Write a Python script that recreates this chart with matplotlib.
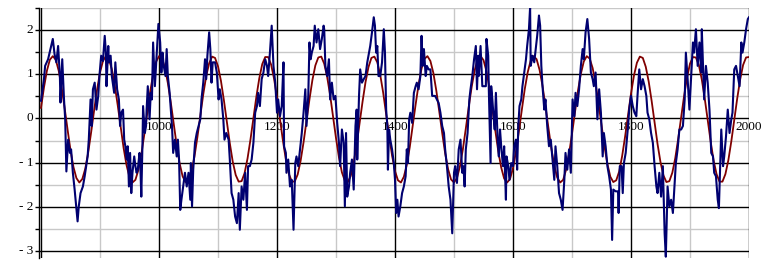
import matplotlib
matplotlib.use("Agg")
import matplotlib.pyplot as plt
from matplotlib.ticker import MultipleLocator

blue_years = [
    800, 805, 807, 812, 816, 820, 823, 826, 829, 832,
    833, 836, 839, 841, 843, 846, 849, 851, 854, 857,
    862, 864, 867, 871, 874, 879, 881, 884, 886, 888,
    891, 894, 897, 899, 902, 905, 908, 910, 911, 914,
    915, 918, 920, 924, 926, 929, 932, 934, 936, 939,
    941, 943, 945, 947, 949, 951, 953, 955, 958, 960,
    962, 964, 967, 968, 970, 972, 973, 976, 978, 979,
    981, 984, 986, 988, 990, 993, 995, 997, 999, 1002,
    1004, 1006, 1008, 1011, 1013, 1015, 1018, 1020, 1022, 1024,
    1027, 1030, 1032, 1034, 1036,
    1038, 1041, 1044, 1047, 1050, 1053, 1054, 1056, 1058, 1061,
    1064, 1067, 1070, 1072, 1075, 1078, 1080, 1082, 1085, 1087,
    1089, 1091, 1095, 1098, 1101, 1103, 1106, 1109, 1111, 1114,
    1118, 1120, 1123, 1126, 1129, 1132, 1135, 1137, 1140, 1143,
    1146, 1149, 1151, 1154, 1157, 1160, 1163, 1166, 1168, 1171,
    1174, 1177, 1180, 1183, 1185, 1188, 1191, 1194, 1197, 1200,
    1202, 1205, 1208, 1211, 1212, 1215, 1216, 1219, 1222, 1225,
    1228, 1231, 1233, 1236, 1239, 1242, 1245, 1248, 1250, 1253,
    1255, 1257, 1259, 1262, 1264, 1267, 1270, 1273, 1276, 1279,
    1280, 1282, 1285, 1288, 1290, 1293, 1296, 1299, 1302, 1305,
    1307, 1310, 1313, 1315, 1317, 1319, 1322, 1324, 1327, 1330,
    1333, 1335, 1336, 1339, 1341, 1344, 1347, 1350, 1353, 1355,
    1358, 1361, 1364, 1366, 1368, 1370, 1372, 1375, 1378, 1381,
    1383, 1385, 1387, 1388, 1390, 1392, 1395, 1398, 1400, 1402,
    1404, 1406, 1409, 1412, 1415, 1418, 1420, 1422, 1424, 1426,
    1429, 1432, 1435, 1437, 1440, 1443, 1445, 1447, 1449, 1452,
    1454, 1457, 1460, 1463, 1466, 1468, 1471, 1474, 1477, 1480,
    1483, 1485, 1488, 1491, 1494, 1497, 1500, 1502, 1505, 1508,
    1511, 1514, 1516,
    1518, 1520, 1523, 1526, 1528, 1531, 1534, 1537, 1539, 1541,
    1542, 1545, 1548, 1551, 1554, 1555, 1558, 1559, 1562, 1563,
    1565, 1567, 1569, 1571, 1574, 1576, 1578, 1580, 1583, 1585,
    1588, 1589, 1592, 1594, 1597, 1600, 1602, 1605, 1607, 1609,
    1611, 1614, 1616, 1619, 1622, 1624, 1627, 1629, 1630, 1633,
    1636, 1639, 1641, 1644, 1646, 1648, 1650, 1653, 1655, 1658,
    1661, 1664, 1667, 1670, 1672, 1675, 1678, 1681, 1684, 1687,
    1689, 1692, 1695, 1698, 1701, 1704, 1706, 1709, 1712, 1715,
    1718, 1720, 1723, 1726, 1729, 1732, 1735, 1737, 1740, 1743,
    1746, 1749, 1752, 1754, 1757, 1760,
    1763, 1766, 1768, 1770, 1774, 1778, 1779, 1781, 1784, 1786,
    1788, 1791, 1793, 1795, 1797, 1800, 1803, 1806, 1809, 1811,
    1814, 1817, 1820, 1823, 1826, 1828, 1831, 1834, 1837, 1840,
    1843, 1845, 1848, 1851, 1854, 1857, 1859, 1862, 1865, 1868,
    1871, 1874, 1876, 1879, 1882, 1885, 1888, 1891, 1893, 1896,
    1899, 1902, 1905, 1907, 1910, 1913, 1916, 1919, 1920, 1923,
    1924, 1927, 1930, 1933, 1936, 1939, 1941, 1944, 1947, 1949,
    1951, 1953, 1956, 1958, 1961, 1964, 1967, 1970, 1972, 1975,
    1978, 1981, 1984, 1987, 1989, 1992, 1995, 1998, 2000,
]

blue_values = [
    0.40, 0.89, 1.19, 1.34, 1.57, 1.80, 1.45, 1.27, 1.64, 0.96,
    0.36, 1.34, 0.43, -0.02, -1.20, -0.48, -0.78, -0.70, -1.23, -1.61,
    -2.33, -1.99, -1.69, -1.54, -1.31, -0.86, -0.48, 0.43, -0.17, 0.66,
    0.81, 0.20, 0.51, 0.96, 1.42, 1.30, 1.87, 1.49, 0.73, 1.64,
    1.27, 1.42, 0.96, 0.58, 1.27, 0.66, 0.43, -0.17, 0.13, 0.20,
    -0.48, -0.63, -0.93, -0.63, -1.54, -0.78, -1.69, -1.23, -0.86, -1.08,
    -1.23, -1.16, -0.78, -0.93, -1.77, -0.55, 0.28, -0.33, -0.17, 0.20,
    0.73, -0.02, 0.58, 0.43, 1.72, 0.73, 1.19, 1.64, 2.14, 1.72,
    1.04, 1.49, 1.19, 0.96, 1.57, 0.96, 0.58, 0.20, -0.17, -0.78,
    -0.48, -0.86, -0.48, -0.93, -2.07,
    -1.84, -1.54, -1.23, -1.54, -1.23, -1.84, -1.01, -1.99, -1.16, -0.55,
    -0.33, -0.17, -0.02, 0.43, 0.81, 1.34, 0.89, 1.42, 1.95, 1.57,
    0.81, 1.27, 1.27, 1.04, 0.43, 0.66, 0.43, -0.02, -0.48, -0.33,
    -0.48, -0.93, -1.69, -1.84, -2.22, -2.37, -1.69, -2.52, -1.54, -1.84,
    -1.23, -2.07, -1.08, -1.08, -0.93, -0.55, 0.13, 0.28, 0.58, 0.28,
    0.89, 1.04, 1.34, 1.19, 0.96, 1.49, 2.10, 1.19, 0.81, 0.13,
    0.43, 0.05, 0.28, 1.27, -0.63, -0.78, -1.23, -0.93, -1.54, -1.39,
    -2.52, -1.01, -0.86, -1.08, -0.70, -0.33, 0.13, 0.66, -0.17, 0.51,
    1.72, 1.34, 1.49, 1.64, 2.10, 1.72, 2.02, 1.57, 1.80, 2.10,
    2.02, 1.19, 0.96, 1.34, 0.43, 0.81, 0.43, 0.51, -0.10, -0.55,
    -1.08, -0.25, -0.55, -1.99, -0.33, -1.77, -1.54, -1.23, -0.93, -1.61,
    -0.17, 0.20, -0.93, 0.51, 1.11, 0.81, 0.89, 0.96, 1.27, 1.42,
    1.64, 1.95, 2.29, 2.10, 1.49, 1.64, 0.96, 0.96, 1.27, 2.02,
    1.49, 0.20, -0.17, -1.16, -0.25, -0.48, -0.70, -1.01, -1.39, -2.14,
    -1.84, -2.22, -1.99, -1.69, -1.54, -1.31, -0.70, -1.01, -0.02, 0.13,
    -0.10, 0.58, 0.73, 0.81, 0.66, 0.96, 1.87, 1.19, 1.57, 0.96,
    1.19, 1.11, 1.11, 0.51, 0.51, 0.51, 0.43, 0.35, 0.13, -0.17,
    -0.33, -0.70, -1.08, -1.54, -1.84, -2.60, -1.23, -1.08, -1.46, -0.70,
    -0.48, -1.23, -1.08,
    -1.54, -0.70, -0.33, 0.43, 0.66, 0.96, 1.34, 1.64, 0.66, 1.42,
    0.96, 1.64, 0.73, 0.73, 0.73, 1.80, 1.42, 0.66, -1.01, 0.73,
    0.43, 0.05, -0.25, 0.58, -0.48, -0.86, -0.25, -0.63, -1.08, -0.63,
    -1.84, -0.86, -1.08, -1.39, -1.01, -1.08, -0.63, -0.48, -1.16, -0.17,
    0.28, 0.43, 0.73, 1.04, 1.34, 1.64, 2.02, 2.52, 1.19, 1.42,
    1.27, 1.64, 1.87, 2.33, 2.10, 1.19, 0.73, 0.20, 0.43, -0.17,
    -0.63, -0.48, -0.93, -1.39, -0.63, -1.08, -1.69, -1.84, -2.07, -1.39,
    -0.78, -1.16, -0.70, -1.23, 0.43, 0.05, 0.58, 0.28, 0.66, 1.19,
    1.57, 1.34, 1.95, 2.25, 1.80, 1.04, 0.89, 0.73, 1.04, -0.02,
    0.66, 0.13, -0.86, -0.33, -0.63, -1.08,
    -1.31, -1.61, -2.75, -1.61, -1.65, -1.65, -2.14, -1.08, -1.08, -1.69,
    -1.01, -0.78, -0.48, -0.17, 0.20, 0.51, 0.28, 0.13, 0.05, 0.51,
    1.11, 0.66, 0.89, 0.73, 0.51, 0.13, -0.02, -0.33, -0.55, -1.08,
    -1.54, -1.69, -1.23, -1.77, -1.08, -2.60, -3.13, -1.54, -1.99, -1.84,
    -2.14, -1.46, -1.01, -0.70, -0.25, -0.25, -0.17, 0.43, 1.49, 0.89,
    0.20, 0.96, 1.72, 1.49, 2.02, 1.19, 1.72, 1.04, 2.02, 0.81,
    0.43, 1.19, 0.81, 0.20, -0.78, -0.86, -1.23, -1.31, -1.84, -2.03,
    -1.16, -0.25, -1.08, -0.86, -0.41, 0.20, -0.33, -0.02, 0.13, 1.11,
    1.19, 0.96, 0.73, 1.72, 1.49, 1.72, 2.02, 2.25, 2.29,
]

red_years = list(range(800, 2001, 5))

red_values = [
    0.24, 0.70, 1.08, 1.33, 1.41, 1.33, 1.08, 0.70, 0.24, -0.25,
    -0.72, -1.10, -1.35, -1.45, -1.37, -1.14, -0.77, -0.31, 0.18, 0.65,
    1.04, 1.30, 1.41, 1.34, 1.12, 0.75, 0.30, -0.19, -0.67, -1.06,
    -1.33, -1.45, -1.39, -1.17, -0.82, -0.37, 0.12, 0.60, 1.00, 1.28,
    1.41, 1.36, 1.15, 0.80, 0.36, -0.13, -0.61, -1.02, -1.31, -1.44,
    -1.41, -1.21, -0.87, -0.43, 0.06, 0.545, 0.96, 1.25, 1.40, 1.37,
    1.18, 0.85, 0.41, -0.075, -0.56, -0.98, -1.28, -1.43, -1.42, -1.24,
    -0.91, -0.48, 0.005, 0.49, 0.91, 1.23, 1.39, 1.39, 1.22, 0.90,
    0.47, -0.016, -0.50, -0.93, -1.25, -1.425, -1.43, -1.27, -0.96, -0.54,
    -0.054, 0.43, 0.87, 1.20, 1.38, 1.40, 1.24, 0.94, 0.53, 0.04,
    -0.445, -0.88, -1.22, -1.41, -1.44, -1.30, -1.00, -0.59, -0.11, 0.38,
    0.82, 1.16, 1.37, 1.40, 1.27, 0.985, 0.58, 0.10, -0.39, -0.84,
    -1.19, -1.40, -1.45, -1.32, -1.05, -0.65, -0.17, 0.32, 0.77, 1.13,
    1.35, 1.41, 1.30, 1.03, 0.63, 0.16, -0.33, -0.79, -1.15, -1.38,
    -1.45, -1.35, -1.09, -0.70, -0.23, 0.26, 0.72, 1.09, 1.33, 1.41,
    1.32, 1.07, 0.69, 0.22, -0.27, -0.74, -1.11, -1.36, -1.45, -1.37,
    -1.125, -0.75, -0.29, 0.20, 0.67, 1.05, 1.31, 1.41, 1.34, 1.10,
    0.74, 0.28, -0.21, -0.68, -1.07, -1.34, -1.45, -1.39, -1.16, -0.80,
    -0.35, 0.14, 0.62, 1.01, 1.29, 1.41, 1.355, 1.14, 0.79, 0.34,
    -0.15, -0.63, -1.03, -1.32, -1.44, -1.40, -1.20, -0.85, -0.41, 0.08,
    0.56, 0.97, 1.26, 1.40, 1.37, 1.17, 0.835, 0.395, -0.095, -0.58,
    -0.99, -1.29, -1.44, -1.42, -1.23, -0.90, -0.46, 0.025, 0.51, 0.93,
    1.24, 1.39, 1.38, 1.21, 0.88, 0.45, -0.035, -0.52, -0.95, -1.26,
    -1.43, -1.43, -1.26, -0.945, -0.52, -0.034, 0.45, 0.88, 1.21, 1.38,
    1.39,
]

x_ticks = [1000, 1200, 1400, 1600, 1800, 2000]
x_tick_labels = ["1000", "1200", "1400", "1600", "1800", "2000"]
y_ticks = [2, 1, 0, -1, -2, -3]
y_tick_labels = ["2", "1", "0", "- 1", "- 2", "- 3"]

serif = ["Liberation Serif", "DejaVu Serif"]

fig = plt.figure(figsize=(7.68, 2.66), dpi=100)
ax = fig.add_axes([39 / 768, 1 - 257.6 / 266, (749 - 39) / 768, (257.6 - 8) / 266])

ax.set_xlim(796.6, 2000)
ax.set_ylim(-3.15, 2.5)

# grid lines
for v in [2.5, 1.5, 0.5, -0.5, -1.5, -2.5]:
    ax.axhline(v, color="#c8c8c8", lw=1.0, zorder=1)
for v in [2, 1, 0, -1, -2, -3]:
    ax.axhline(v, color="black", lw=1.0, zorder=1.2)
for v in [900, 1100, 1300, 1500, 1700, 1900]:
    ax.axvline(v, color="#c8c8c8", lw=1.0, zorder=1)
for v in [800, 1000, 1200, 1400, 1600, 1800, 2000]:
    ax.axvline(v, color="black", lw=1.0, zorder=1.2)

for s in ["top", "right", "bottom"]:
    ax.spines[s].set_visible(False)
ax.spines["left"].set_linewidth(1.0)

ax.set_xticks([])
ax.yaxis.set_major_locator(MultipleLocator(0.5))
ax.tick_params(axis="y", direction="out", length=3, width=1, labelleft=False)

for v, lab in zip(y_ticks, y_tick_labels):
    ax.text(-0.008, v, lab, transform=ax.get_yaxis_transform(), ha="right",
            va="center", fontsize=9.5, family=serif)

for v, lab in zip(x_ticks, x_tick_labels):
    ax.text(v, -0.06, lab, ha="center", va="top", fontsize=9.5, family=serif,
            zorder=1.5, clip_on=False)

ax.plot(red_years, red_values, color="#800000", lw=1.3, zorder=3)
ax.plot(blue_years, blue_values, color="#000070", lw=1.5, zorder=4)

fig.savefig("out.png", dpi=100)
